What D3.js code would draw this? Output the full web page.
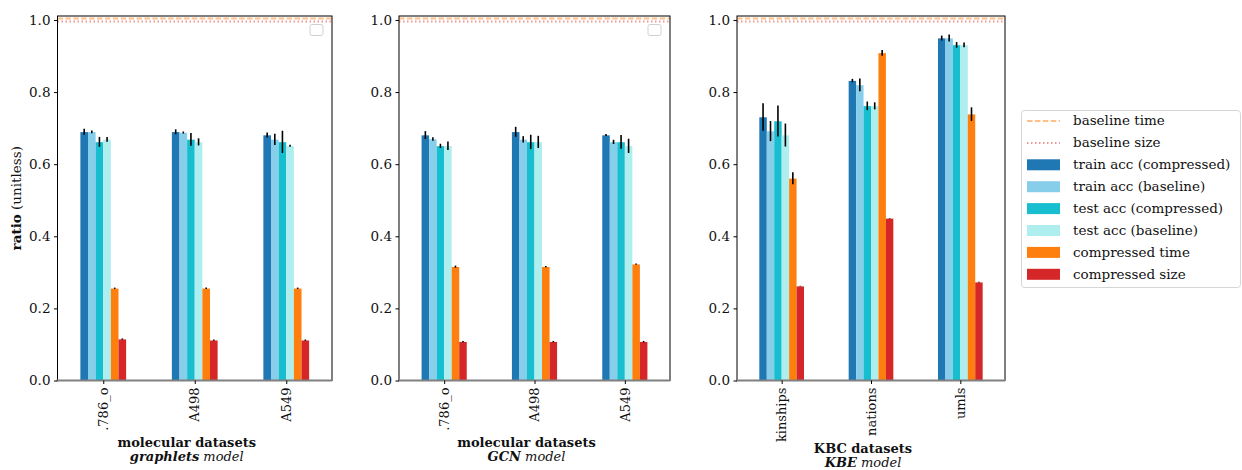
<!DOCTYPE html>
<html>
<head>
<meta charset="utf-8">
<script src="https://cdn.jsdelivr.net/npm/d3@7"></script>
<style>
  body { margin: 0; background: #fff; }
  svg text { font-family: "DejaVu Serif", "Liberation Serif", serif; fill: #111; }
</style>
</head>
<body>
<div id="chart"></div>
<script>
// series shared by every panel
const seriesNames = ['train acc (compressed)', 'train acc (baseline)', 'test acc (compressed)',
                     'test acc (baseline)', 'compressed time', 'compressed size'];
const seriesColors = ['#1f77b4', '#87ceeb', '#17becf', '#afeeee', '#ff7f0e', '#d62728'];

// reference lines (baseline time / baseline size, both = 1)
const baselineNames = ['baseline time', 'baseline size'];
const baselineValues = [1.004, 0.996];
const baselineColors = ['#ffbf86', '#ec9a9a'];

const yTicks = [0, 0.2, 0.4, 0.6, 0.8, 1.0];

// graphlets model, molecular datasets
const graphletsCats = ['.786_o', 'A498', 'A549'];
const graphletsVals = [
  [0.689, 0.689, 0.680],
  [0.689, 0.687, 0.668],
  [0.661, 0.668, 0.661],
  [0.668, 0.661, 0.650],
  [0.255, 0.255, 0.255],
  [0.114, 0.111, 0.111]
];
const graphletsErr = [
  [0.0075, 0.006, 0.006],
  [0.003, 0.002, 0.015],
  [0.013, 0.017, 0.030],
  [0.006, 0.009, 0.002],
  [0.001, 0.001, 0.001],
  [0.001, 0.001, 0.001]
];

// GCN model, molecular datasets
const gcnCats = ['.786_o', 'A498', 'A549'];
const gcnVals = [
  [0.680, 0.689, 0.680],
  [0.669, 0.668, 0.661],
  [0.650, 0.661, 0.661],
  [0.650, 0.661, 0.650],
  [0.315, 0.315, 0.322],
  [0.107, 0.107, 0.107]
];
const gcnErr = [
  [0.010, 0.013, 0.002],
  [0.004, 0.008, 0.005],
  [0.005, 0.019, 0.018],
  [0.011, 0.016, 0.019],
  [0.002, 0.001, 0.001],
  [0.001, 0.001, 0.001]
];

// KBE model, KBC datasets
const kbeCats = ['kinships', 'nations', 'umls'];
const kbeVals = [
  [0.730, 0.831, 0.949],
  [0.691, 0.819, 0.949],
  [0.719, 0.761, 0.930],
  [0.680, 0.761, 0.930],
  [0.560, 0.908, 0.738],
  [0.261, 0.449, 0.272]
];
const kbeErr = [
  [0.037, 0.004, 0.006],
  [0.027, 0.017, 0.009],
  [0.042, 0.011, 0.007],
  [0.031, 0.009, 0.006],
  [0.016, 0.007, 0.018],
  [0, 0, 0]
];

const W = 1242, H = 470;
const plotTop = 16, plotBottom = 380.5;
const fontSize = '13.5px';

const svg = d3.select('#chart').append('svg')
  .attr('width', W).attr('height', H);

const y = d3.scaleLinear().domain([0, 1.011]).range([plotBottom, plotTop]);

const panels = [
  {x0: 57.5, x1: 332, cats: graphletsCats, vals: graphletsVals, err: graphletsErr,
   title: 'molecular datasets', model: 'graphlets', emptyLegend: true, ylabel: true, titleY: 447},
  {x0: 399, x1: 670, cats: gcnCats, vals: gcnVals, err: gcnErr,
   title: 'molecular datasets', model: 'GCN', emptyLegend: true, titleY: 447},
  {x0: 737, x1: 1005, cats: kbeCats, vals: kbeVals, err: kbeErr,
   title: 'KBC datasets', model: 'KBE', emptyLegend: false, titleY: 453}
];

const groupW = 0.5;
const barW = groupW / seriesNames.length;
const dashes = ['5.5,2.4', '1.5,2.5'];

panels.forEach(p => {
  const x = d3.scaleLinear().domain([-0.5, p.cats.length - 0.5]).range([p.x0, p.x1]);
  const g = svg.append('g');

  // bars
  p.vals.forEach((vals, s) => {
    const off = -groupW / 2 + s * barW;
    g.selectAll('.bar' + s)
      .data(vals)
      .enter().append('rect')
      .attr('x', (d, i) => x(i + off))
      .attr('y', d => y(d))
      .attr('width', x(barW) - x(0))
      .attr('height', d => y(0) - y(d))
      .style('fill', seriesColors[s]);

    g.selectAll('.err' + s)
      .data(vals)
      .enter().append('line')
      .attr('x1', (d, i) => x(i + off + barW / 2))
      .attr('x2', (d, i) => x(i + off + barW / 2))
      .attr('y1', (d, i) => y(d - p.err[s][i]))
      .attr('y2', (d, i) => y(d + p.err[s][i]) - 0.6)
      .attr('stroke', '#000')
      .attr('stroke-width', 1.6);
  });

  // baselines
  baselineValues.forEach((v, k) => {
    g.append('line')
      .attr('x1', p.x0).attr('x2', p.x1)
      .attr('y1', y(v)).attr('y2', y(v))
      .attr('stroke', baselineColors[k])
      .attr('stroke-width', 2)
      .attr('stroke-dasharray', dashes[k]);
  });

  // frame
  g.append('rect')
    .attr('x', p.x0).attr('y', plotTop)
    .attr('width', p.x1 - p.x0).attr('height', plotBottom - plotTop)
    .attr('fill', 'none').attr('stroke', '#000').attr('stroke-width', 1);

  // gray zero line
  g.append('line')
    .attr('x1', p.x0 - 1).attr('x2', p.x1)
    .attr('y1', y(0)).attr('y2', y(0))
    .attr('stroke', '#808080').attr('stroke-width', 2);

  // y axis
  const yAxis = g.append('g')
    .attr('transform', `translate(${p.x0},0)`)
    .call(d3.axisLeft(y).tickValues(yTicks).tickFormat(d3.format('.1f')).tickSize(3.5).tickPadding(3.5));
  yAxis.select('.domain').remove();
  yAxis.selectAll('text').style('font-size', fontSize).style('font-family', '"DejaVu Serif", serif');

  // x axis
  const xAxis = g.append('g')
    .attr('transform', `translate(0,${plotBottom})`)
    .call(d3.axisBottom(x).tickValues(d3.range(p.cats.length)).tickFormat(i => p.cats[i]).tickSize(3.5).tickPadding(4));
  xAxis.select('.domain').remove();
  xAxis.selectAll('text')
    .style('font-size', '13px')
    .style('font-family', '"DejaVu Serif", serif')
    .attr('text-anchor', 'end')
    .attr('dy', '0.32em')
    .attr('transform', 'rotate(-90)')
    .attr('x', -7)
    .attr('y', 0);

  // x title
  const cx = (p.x0 + p.x1) / 2 - 8;
  g.append('text')
    .attr('x', cx).attr('y', p.titleY)
    .attr('text-anchor', 'middle')
    .style('font-size', '13px').style('font-weight', 'bold')
    .text(p.title);
  const t2 = g.append('text')
    .attr('x', cx).attr('y', p.titleY + 14)
    .attr('text-anchor', 'middle')
    .style('font-size', '13px').style('font-style', 'italic');
  t2.append('tspan').style('font-weight', 'bold').text(p.model);
  t2.append('tspan').text(' model');

  // empty legend box
  if (p.emptyLegend) {
    g.append('rect')
      .attr('x', p.x1 - 22).attr('y', 24.5)
      .attr('width', 13).attr('height', 11)
      .attr('rx', 2)
      .attr('fill', '#fff').attr('stroke', '#d0d0d0').attr('stroke-width', 1);
  }

  if (p.ylabel) {
    const yl = svg.append('text')
      .attr('transform', `translate(21,${(plotTop + plotBottom) / 2}) rotate(-90)`)
      .attr('text-anchor', 'middle')
      .style('font-size', fontSize);
    yl.append('tspan').style('font-weight', 'bold').text('ratio');
    yl.append('tspan').text(' (unitless)');
  }
});

// legend
const leg = svg.append('g').attr('transform', 'translate(1021,110)');
leg.append('rect')
  .attr('x', 0.5).attr('y', 0.5)
  .attr('width', 219).attr('height', 177)
  .attr('rx', 3)
  .attr('fill', '#fff').attr('stroke', '#d6d6d6');

const rowY = i => 11 + i * 21.9;
baselineNames.forEach((n, k) => {
  leg.append('line')
    .attr('x1', 6).attr('x2', 39)
    .attr('y1', rowY(k)).attr('y2', rowY(k))
    .attr('stroke', baselineColors[k]).attr('stroke-width', 2)
    .attr('stroke-dasharray', dashes[k]);
  leg.append('text')
    .attr('x', 52).attr('y', rowY(k)).attr('dy', '0.32em')
    .style('font-size', fontSize)
    .text(n);
});
seriesNames.forEach((n, s) => {
  const yy = rowY(s + 2);
  leg.append('rect')
    .attr('x', 6).attr('y', yy - 5.5)
    .attr('width', 33).attr('height', 11)
    .style('fill', seriesColors[s]);
  leg.append('text')
    .attr('x', 52).attr('y', yy).attr('dy', '0.32em')
    .style('font-size', fontSize)
    .text(n);
});
</script>
</body>
</html>
